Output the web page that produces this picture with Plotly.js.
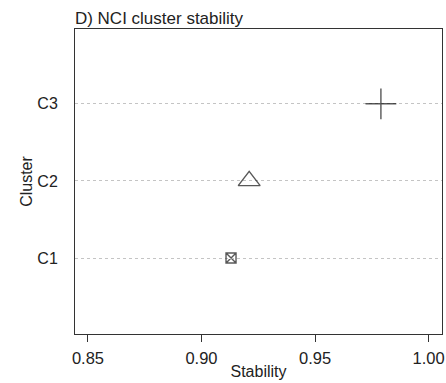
<!DOCTYPE html>
<html>
<head>
<meta charset="utf-8">
<script src="https://cdn.plot.ly/plotly-3.0.1.min.js"></script>
<style>html,body{margin:0;padding:0;background:#fff;}#chart{width:446px;height:383px;}</style>
</head>
<body>
<div id="chart"></div>
<script>
var clusters = ["C1", "C2", "C3"];
var clusterPos = [1, 2, 3];
var stability = [0.913, 0.921, 0.979];
var symbols = ["square-x-open", "triangle-up-open", "cross-thin-open"];
var sizes = [10, 19, 22];
var xTicks = [0.85, 0.90, 0.95, 1.00];
var xTickLabels = ["0.85", "0.90", "0.95", "1.00"];

var font = "Liberation Sans, Arial, sans-serif";
var data = [{
  type: "scatter",
  mode: "markers",
  x: stability,
  y: clusterPos,
  marker: {symbol: symbols, size: sizes, color: "#111",
           line: {color: "#111", width: 1.4}},
  showlegend: false,
  hoverinfo: "x+y"
}];
var layout = {
  width: 446, height: 383,
  margin: {l: 75, r: 4, t: 29, b: 49},
  paper_bgcolor: "#fff", plot_bgcolor: "#fff",
  font: {family: font, size: 16, color: "#222"},
  title: {text: "D) NCI cluster stability", x: 0.168, xanchor: "left", xref: "container",
          y: 0.953, yanchor: "middle", yref: "container",
          font: {family: font, size: 17, color: "#222"}},
  xaxis: {range: [0.8443, 1.0059], tickvals: xTicks, ticktext: xTickLabels,
          ticks: "outside", ticklen: 7, tickcolor: "#333", tickwidth: 1,
          showline: true, linecolor: "#333", linewidth: 1, mirror: true,
          showgrid: false, zeroline: false, ticklabelstandoff: 2,
          tickfont: {family: font, size: 16.5, color: "#222"},
          title: {text: "Stability", standoff: 0, font: {family: font, size: 16, color: "#222"}}},
  yaxis: {range: [0.015, 3.97], tickvals: clusterPos, ticktext: clusters,
          ticks: "", showline: true, linecolor: "#333", linewidth: 1, mirror: true,
          showgrid: true, gridcolor: "#c4c4c4", griddash: "dot", gridwidth: 1,
          zeroline: false, ticklabelstandoff: 13,
          tickfont: {family: font, size: 16, color: "#222"},
          title: {text: "Cluster", standoff: 0, font: {family: font, size: 16, color: "#222"}}}
};
Plotly.newPlot("chart", data, layout, {displayModeBar: false, staticPlot: true});
</script>
</body>
</html>
